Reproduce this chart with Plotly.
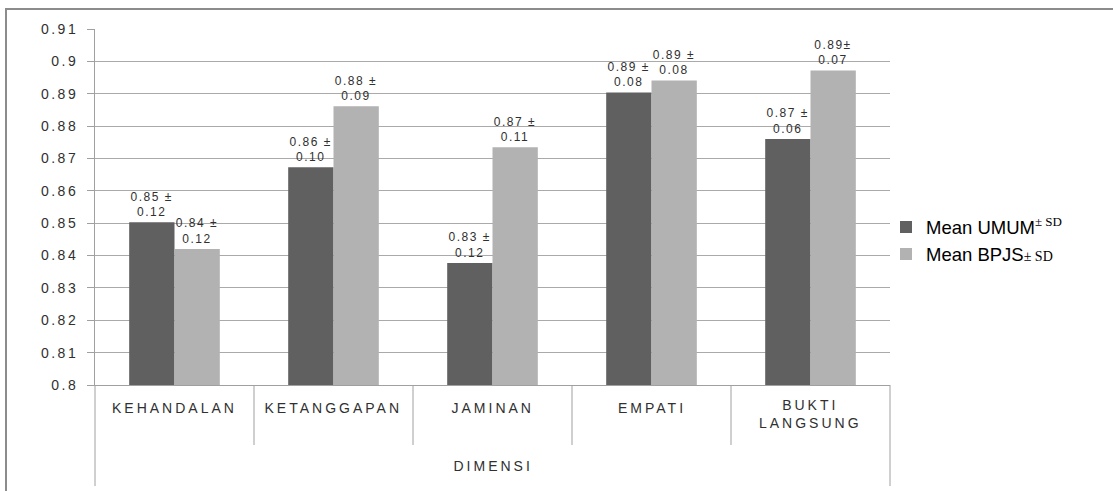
import plotly.graph_objects as go

categories = ["KEHANDALAN", "KETANGGAPAN", "JAMINAN", "EMPATI", "BUKTI<br>LANGSUNG"]
mean_umum = [0.8503, 0.8673, 0.8377, 0.8904, 0.8760]
mean_bpjs = [0.8420, 0.8861, 0.8735, 0.8941, 0.8972]
labels_umum = ["0.85 ±<br>0.12", "0.86 ±<br>0.10", "0.83 ±<br>0.12", "0.89 ±<br>0.08", "0.87 ±<br>0.06"]
labels_bpjs = ["0.84 ±<br>0.12", "0.88 ±<br>0.09", "0.87 ±<br>0.11", "0.89 ±<br>0.08", "0.89±<br>0.07"]
y_ticks = [0.8, 0.81, 0.82, 0.83, 0.84, 0.85, 0.86, 0.87, 0.88, 0.89, 0.9, 0.91]
x_title = "DIMENSI"

W, H = 1113, 491
L, R, T, B = 95, 890, 29, 385
pw, ph = R - L, B - T
def px(x): return (x - L) / pw
def py(y): return (B - y) / ph

xs = list(range(len(categories)))
font = "Liberation Sans, Arial, sans-serif"

fig = go.Figure()
fig.add_trace(go.Bar(
    x=xs, y=mean_umum, base=0,
    name="Mean UMUM<sup><span style='font-family:Liberation Serif;font-size:13px'>± SD</span></sup>",
    marker=dict(color="#606060", line=dict(width=0)),
    text=labels_umum, textposition="outside", constraintext="none",
    textfont=dict(family=font, size=12, color="#303030"), cliponaxis=False))
fig.add_trace(go.Bar(
    x=xs, y=mean_bpjs, base=0,
    name="Mean BPJS<span style='font-family:Liberation Serif;font-size:14px'>± SD</span>",
    marker=dict(color="#b2b2b2", line=dict(width=0)),
    text=labels_bpjs, textposition="outside", constraintext="none",
    textfont=dict(family=font, size=12, color="#303030"), cliponaxis=False))

shapes = []
shapes.append(dict(type="rect", xref="paper", yref="paper",
                   x0=px(6), x1=px(1160), y0=py(520), y1=py(9),
                   line=dict(color="#8c8c8c", width=2), layer="below"))
for i in range(len(categories) - 1):
    shapes.append(dict(type="line", xref="x", yref="paper", x0=i + 0.5, x1=i + 0.5,
                       y0=0, y1=py(445), line=dict(color="#a0a0a0", width=1)))
for xp in [0, 1]:
    shapes.append(dict(type="line", xref="paper", yref="paper", x0=xp, x1=xp,
                       y0=0, y1=py(486), line=dict(color="#a0a0a0", width=1)))

annotations = []
for i, c in enumerate(categories):
    annotations.append(dict(x=i, y=0, xref="x", yref="paper", text=c, showarrow=False,
                            yanchor="middle", yshift=-(23 if "<br>" not in c else 29),
                            font=dict(family=font, size=14, color="#303030")))
annotations.append(dict(x=0.5, y=0, xref="paper", yref="paper", text=x_title, showarrow=False,
                        yanchor="middle", yshift=-81, font=dict(family=font, size=14, color="#303030")))

fig.update_layout(
    width=W, height=H,
    margin=dict(l=L, r=W - R, t=T, b=H - B),
    paper_bgcolor="white", plot_bgcolor="white",
    barmode="group", bargap=0.43, bargroupgap=0,
    shapes=shapes, annotations=annotations,
    showlegend=True,
    legend=dict(x=px(886), y=py(241), xanchor="left", yanchor="middle",
                font=dict(family=font, size=18.5, color="#000000"),
                itemwidth=30, tracegroupgap=0, bgcolor="rgba(0,0,0,0)"),
    xaxis=dict(range=[-0.5, len(categories) - 0.5], showticklabels=False, showgrid=False,
               zeroline=False, showline=True, linecolor="#a0a0a0", linewidth=1, ticks=""),
    yaxis=dict(range=[0.8, 0.91], tickvals=y_ticks, ticktext=[str(v) for v in y_ticks],
               showgrid=True, gridcolor="#aaaaaa", gridwidth=1, zeroline=False,
               showline=True, linecolor="#a0a0a0", linewidth=1,
               ticks="outside", ticklen=7, tickcolor="#a0a0a0",
               ticklabelstandoff=6,
               tickfont=dict(family=font, size=14, color="#303030")),
    font=dict(family=font),
)

css = (".ytick text{letter-spacing:2.5px;}"
       ".annotation-text{letter-spacing:3px;}"
       ".bartext{letter-spacing:1.5px;}")
post = ("var s=document.createElement('style');s.innerHTML=%r;document.head.appendChild(s);" % css)

fig.write_html("out.html", post_script=post)
